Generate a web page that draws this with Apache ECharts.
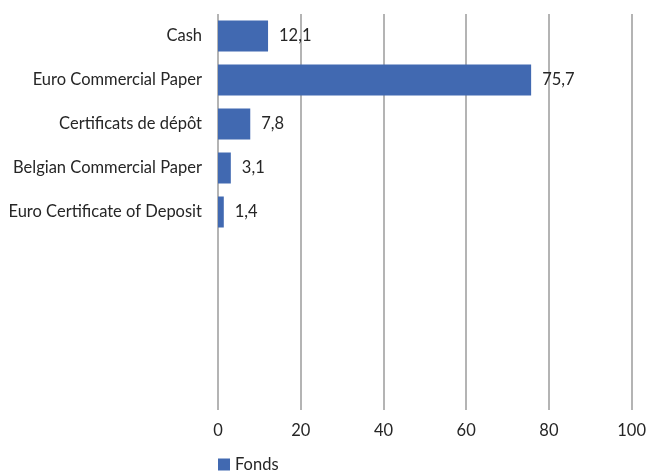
<!DOCTYPE html>
<html>
<head>
<meta charset="utf-8">
<script src="https://cdn.jsdelivr.net/npm/echarts@6/dist/echarts.min.js"></script>
<style>
  html, body { margin: 0; padding: 0; background: #fff; }
  #chart { width: 649px; height: 474px; }
</style>
</head>
<body>
<div id="chart"></div>
<script>
// categories top to bottom, with empty slots below
const categories = ['Cash', 'Euro Commercial Paper', 'Certificats de dépôt', 'Belgian Commercial Paper', 'Euro Certificate of Deposit', '', '', '', ''];
const fondsValues = [12.1, 75.7, 7.8, 3.1, 1.4, '-', '-', '-', '-'];
const xTicks = [0, 20, 40, 60, 80, 100];

const textColor = '#262626';
const fontFamily = 'Lato, "Open Sans", sans-serif';
const fontSize = 16.5;

const chart = echarts.init(document.getElementById('chart'));
chart.setOption({
  animation: false,
  textStyle: { fontFamily: fontFamily },
  grid: { left: 218, right: 17, top: 14, bottom: 64, containLabel: false },
  legend: {
    data: ['Fonds'],
    left: 213,
    bottom: -4,
    icon: 'rect',
    itemWidth: 12,
    itemHeight: 12,
    itemGap: 8,
    textStyle: { color: textColor, fontSize: fontSize, fontFamily: fontFamily }
  },
  xAxis: {
    type: 'value',
    min: xTicks[0],
    max: xTicks[xTicks.length - 1],
    interval: 20,
    axisLine: { show: false },
    axisTick: { show: false },
    axisLabel: { color: textColor, fontSize: fontSize, margin: 12 },
    splitLine: { show: true, lineStyle: { color: '#b4b4b4', width: 2 } }
  },
  yAxis: {
    type: 'category',
    inverse: true,
    data: categories,
    axisLine: { show: false },
    axisTick: { show: false },
    axisLabel: { color: textColor, fontSize: fontSize, margin: 16 },
    splitLine: { show: false }
  },
  series: [{
    name: 'Fonds',
    type: 'bar',
    data: fondsValues,
    barWidth: 31,
    itemStyle: { color: '#4169B1' },
    label: {
      show: true,
      position: 'right',
      distance: 11,
      color: textColor,
      fontSize: fontSize,
      formatter: (p) => String(p.value).replace('.', ',')
    }
  }]
});
</script>
</body>
</html>
